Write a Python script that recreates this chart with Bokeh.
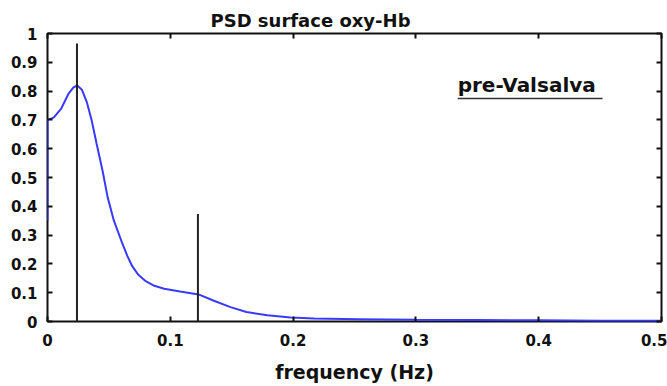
from bokeh.plotting import figure
from bokeh.models import Range1d, LinearAxis, FixedTicker, Label
from bokeh.embed import file_html
from bokeh.resources import INLINE

# PSD curve (frequency in Hz, normalised power)
freq = [0.000, 0.000, 0.005, 0.011, 0.017, 0.021, 0.024, 0.028, 0.032, 0.036,
        0.040, 0.045, 0.049, 0.054, 0.061, 0.065, 0.069, 0.074, 0.080, 0.087,
        0.095, 0.108, 0.123, 0.135, 0.149, 0.162, 0.179, 0.198, 0.217, 0.254,
        0.300, 0.350, 0.400, 0.450, 0.500]
psd = [0.35, 0.70, 0.708, 0.738, 0.790, 0.812, 0.820, 0.805, 0.762, 0.698,
       0.617, 0.520, 0.431, 0.351, 0.270, 0.228, 0.192, 0.162, 0.140, 0.124,
       0.114, 0.104, 0.094, 0.073, 0.050, 0.033, 0.022, 0.014, 0.010, 0.008,
       0.006, 0.005, 0.004, 0.003, 0.003]

# vertical marker lines
marker_freq = [0.024, 0.1225]
marker_height = [0.965, 0.373]

x_ticks = [0, 0.1, 0.2, 0.3, 0.4, 0.5]
x_tick_labels = ["0", "0.1", "0.2", "0.3", "0.4", "0.5"]
y_ticks = [0, 0.1, 0.2, 0.3, 0.4, 0.5, 0.6, 0.7, 0.8, 0.9, 1.0]
y_tick_labels = ["0", "0.1", "0.2", "0.3", "0.4", "0.5", "0.6", "0.7", "0.8", "0.9", "1"]

title_text = "PSD surface oxy-Hb"
condition_text = "pre-Valsalva"
x_label = "frequency (Hz)"

FONT = "DejaVu Sans"

p = figure(width=667, height=386, output_backend="svg", toolbar_location=None,
           x_range=Range1d(0, 0.5), y_range=Range1d(0, 1),
           min_border_left=47, min_border_right=6, min_border_top=33,
           min_border_bottom=65, background_fill_color="white",
           border_fill_color="white", title=title_text)
p.grid.visible = False
p.outline_line_color = "#111111"
p.outline_line_width = 2

p.title.align = "left"
p.title.offset = 163
p.title.text_font = FONT
p.title.text_font_style = "bold"
p.title.text_font_size = "18px"
p.title.text_color = "#111111"
p.title.standoff = 6

p.line(freq, psd, line_color="#3a3aff", line_width=2)
p.segment(x0=marker_freq, y0=[0] * len(marker_freq), x1=marker_freq, y1=marker_height,
          line_color="#222222", line_width=2)

# main axes
xa = p.xaxis[0]
ya = p.yaxis[0]
xa.ticker = FixedTicker(ticks=x_ticks)
ya.ticker = FixedTicker(ticks=y_ticks)
xa.major_label_overrides = {t: s for t, s in zip(x_ticks, x_tick_labels)}
ya.major_label_overrides = {t: s for t, s in zip(y_ticks, y_tick_labels)}
for ax in (xa, ya):
    ax.axis_line_color = None
    ax.major_tick_in = 5
    ax.major_tick_out = 0
    ax.major_tick_line_width = 2
    ax.major_tick_line_color = "#111111"
    ax.minor_tick_line_color = None
    ax.major_label_text_font = FONT
    ax.major_label_text_font_style = "bold"
    ax.major_label_text_font_size = "15px"
    ax.major_label_text_color = "#111111"
xa.major_label_standoff = 12
ya.major_label_standoff = 10
xa.axis_label = x_label
xa.axis_label_text_font = FONT
xa.axis_label_text_font_style = "bold"
xa.axis_label_text_font_size = "19px"
xa.axis_label_text_color = "#111111"
xa.axis_label_standoff = 12

# tick-only axes on top and right
for loc in ("above", "right"):
    ax = LinearAxis(ticker=FixedTicker(ticks=x_ticks if loc == "above" else y_ticks))
    ax.axis_line_color = None
    ax.major_tick_in = 5
    ax.major_tick_out = 0
    ax.major_tick_line_width = 2
    ax.major_tick_line_color = "#111111"
    ax.minor_tick_line_color = None
    ax.major_label_text_color = None
    ax.major_label_text_font_size = "1px"
    ax.major_label_standoff = 0
    p.add_layout(ax, loc)

p.add_layout(Label(x=0.334, y=0.82, text=condition_text, text_align="left",
                   text_baseline="alphabetic", text_font=FONT, text_font_style="bold",
                   text_font_size="20px", text_color="#111111"))
p.segment(x0=[0.334], y0=[0.774], x1=[0.452], y1=[0.774], line_color="#333333", line_width=1.5)

open("out.html", "w").write(file_html(p, INLINE))
